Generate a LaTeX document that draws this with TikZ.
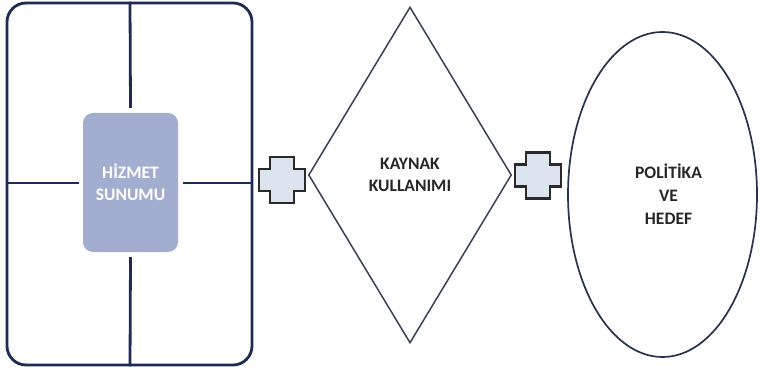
\documentclass[tikz,border=0pt]{standalone}
\usepackage{fontspec}
\setmainfont{Carlito}
\usetikzlibrary{shapes.geometric}
\definecolor{navy}{HTML}{1E2B52}
\definecolor{svcfill}{HTML}{A3ADD0}
\definecolor{dialine}{HTML}{3A4156}
\definecolor{elline}{HTML}{29314E}
\definecolor{crossfill}{HTML}{DCE4F0}
\definecolor{crossline}{HTML}{2A2A2A}
\tikzset{
  framebox/.style={draw=navy, line width=2.8pt, rounded corners=19pt, inner sep=0pt},
  gridline/.style={draw=navy, line width=2.8pt},
  svcbox/.style={fill=svcfill, rounded corners=10pt, inner sep=0pt, text=white,
    font=\bfseries\fontsize{17.5}{22}\selectfont, align=center},
  diabox/.style={diamond, draw=dialine, line width=1.5pt, inner sep=0pt, aspect=0.6,
    font=\bfseries\fontsize{17.5}{22}\selectfont, align=center, text=black!85},
  ellbox/.style={ellipse, draw=elline, line width=1.7pt, inner sep=0pt,
    font=\bfseries\fontsize{17.5}{23}\selectfont, align=center, text=black!85},
  crossstyle/.style={draw=crossline, fill=crossfill, line width=2.2pt, line join=miter},
  pluscross/.pic={\path[crossstyle] (-12,-23) -- (12,-23) -- (12,-11) -- (23,-11) -- (23,11) -- (12,11) -- (12,23) -- (-12,23) -- (-12,11) -- (-23,11) -- (-23,-11) -- (-12,-11) -- cycle;}
}
\begin{document}
\begin{tikzpicture}[x=1pt,y=-1pt]
\useasboundingbox (0,0) rectangle (760,374);
\node[framebox, minimum width=245pt, minimum height=362pt] (frame) at (129.5,184) {};
\node[svcbox, minimum width=95pt, minimum height=139pt] (svc) at (130.5,182.5) {HİZMET\\SUNUMU};
\draw[gridline] (130,184 |- frame.north) -- ([yshift=5pt]svc.north);
\draw[gridline] ([yshift=-5pt]svc.south) -- (130,184 |- frame.south);
\draw[gridline] (frame.west |- 0,183) -- ([xshift=-4pt]svc.west |- 0,183);
\draw[gridline] ([xshift=5pt]svc.east |- 0,183) -- (frame.east |- 0,183);
\node[diabox, minimum width=203pt, minimum height=336pt] (res) at (410,175) {KAYNAK\\KULLANIMI};
\node[ellbox, minimum width=189pt, minimum height=325pt] (pol) at (662.5,194.5) {\hspace*{12pt}POLİTİKA\\\hspace*{12pt}VE\\\hspace*{12pt}HEDEF};
\coordinate (plusA) at (282,180);
\coordinate (plusB) at (538,175.5);
\pic at (plusA) {pluscross};
\pic at (plusB) {pluscross};
\end{tikzpicture}
\end{document}
